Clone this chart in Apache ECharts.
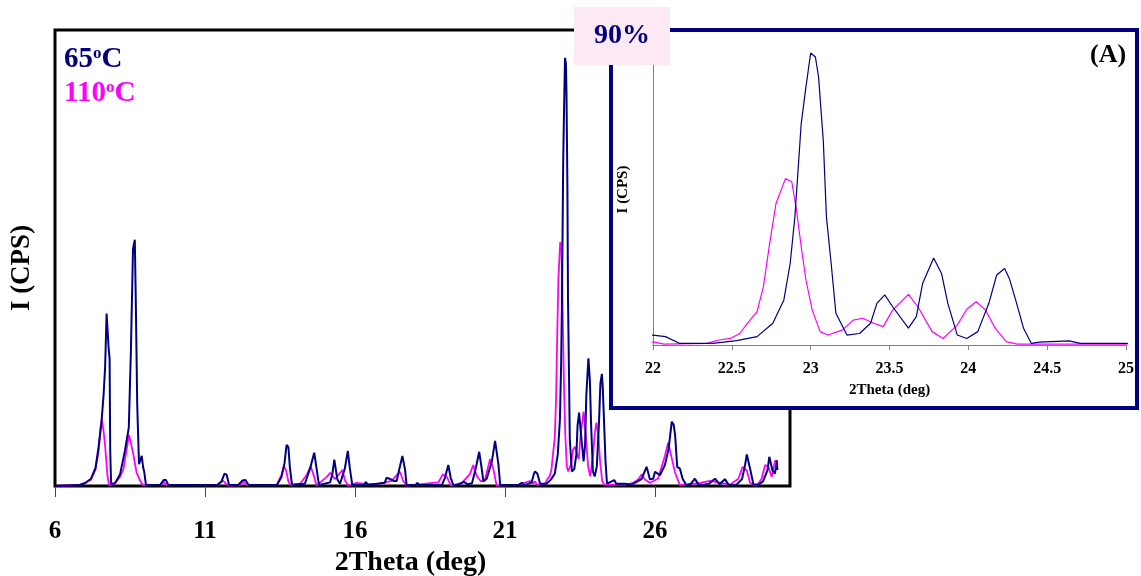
<!DOCTYPE html>
<html>
<head>
<meta charset="utf-8">
<script src="https://cdn.jsdelivr.net/npm/echarts@6/dist/echarts.min.js"></script>
<style>
html,body{margin:0;padding:0;background:#fff;}
#chart{width:1141px;height:576px;}
</style>
</head>
<body>
<div id="chart"></div>
<script>
// ---- DATA (2Theta in degrees, intensity in relative units) ----
const theta65 = [6.0,6.8,7.0,7.2,7.35,7.45,7.55,7.62,7.67,7.72,7.77,7.79,7.82,7.84,7.87,8.0,8.17,8.33,8.46,8.53,8.6,8.66,8.69,8.74,8.8,8.85,8.89,8.94,8.97,9.03,
  9.5,9.62,9.7,9.78,11.4,11.55,11.65,11.72,11.8,12.1,12.25,12.35,12.45,13.4,13.55,13.65,13.72,13.78,13.83,13.9,
  14.33,14.5,14.64,14.72,14.8,15.17,15.24,15.31,15.41,15.5,15.56,15.66,15.76,15.83,15.91,16.3,16.36,16.43,
  16.99,17.05,17.15,17.3,17.39,17.47,17.58,17.67,17.72,18.02,18.08,18.14,18.9,19.0,19.11,19.19,19.28,19.44,19.63,19.75,
  19.9,20.02,20.14,20.22,20.28,20.39,20.56,20.67,20.78,20.84,21.45,21.56,21.65,21.89,21.96,
  22.0,22.08,22.17,22.38,22.53,22.66,22.76,22.83,22.87,22.9,22.94,22.97,23.0,23.03,23.05,23.08,23.1,23.13,23.16,23.23,
  23.31,23.38,23.42,23.47,23.52,23.62,23.67,23.71,23.78,23.83,23.87,23.93,23.99,24.06,24.13,24.18,24.23,24.26,24.3,24.35,
  24.4,24.45,24.64,24.71,25.0,
  25.2,25.39,25.55,25.72,25.83,25.94,26.0,26.17,26.33,26.45,26.56,26.62,26.67,26.74,26.83,26.92,27.04,27.2,27.33,27.45,
  27.61,27.8,28.0,28.15,28.33,28.45,28.7,28.9,29.0,29.06,29.17,29.28,29.45,29.6,29.75,29.81,29.92,30.0,30.06,30.08];
const int65 = [0,0.2,0.6,1.6,4,8.4,14,20,26,37.8,37.6,30,28,8,0.5,0.6,2.6,7.7,12.8,29.7,52,54,42,18,4.8,5,6.6,4,3.3,0.3,
  0.2,1.3,1.3,0.2,0.2,1,2.7,2.5,0.3,0.2,1.2,1.3,0.2,0.3,2,5,9,8.5,4,0.3,
  0.5,3.8,7.3,3.8,0.2,0.8,2.4,5.8,1.5,0.5,0.8,3.8,7.7,3.8,0.2,0.2,0.9,0.2,
  0.7,1.8,1.6,1.1,1.1,3.5,6.6,3.5,0.2,0.2,0.7,0.2,0.3,1.8,4.6,1.8,0.2,0.3,0.9,0.4,
  0.6,3.7,7.5,4,1,1.6,5.3,9.9,4.8,0.2,0.2,0.7,0.2,0.8,2.6,
  3.2,2.7,0.5,0.5,1.4,2.7,7.0,14.5,26.2,41.2,71.2,83,93.9,92.6,86.2,65.8,41.2,26.2,10.2,3.2,
  3.7,7.0,13.4,16.1,12.3,5.4,9.1,19.8,28.0,23.0,13.4,3.2,2.1,4.3,13.4,22.5,24.6,21.4,14.5,5.4,
  0.5,0.9,1.3,0.5,0.5,
  0.3,0.9,1.5,4.2,1.5,1.6,3.1,2.4,4.6,8,14.1,13.5,11.2,4.2,3.8,1.6,0.2,0.5,1.6,0.3,
  0.3,0.5,1.6,0.4,1.5,0.3,0.2,1.5,4.5,6.9,3.8,0.4,0.3,1,3.5,6.4,3.3,2.7,5.6,3.5];

const theta110 = [6.0,6.8,7.0,7.2,7.35,7.45,7.52,7.56,7.62,7.67,7.75,7.8,8.0,8.15,8.28,8.39,8.47,8.52,8.61,8.72,8.85,8.93,
  9.55,9.63,9.72,11.45,11.6,11.7,11.8,12.15,12.28,12.4,13.4,13.55,13.63,13.7,13.78,13.85,
  14.17,14.39,14.52,14.63,14.72,15.06,15.17,15.33,15.44,15.58,15.66,15.77,16.06,16.4,16.83,17.22,17.39,17.5,17.61,17.72,
  18.78,18.93,19.06,19.2,19.56,19.83,19.94,20.06,20.2,20.33,20.5,20.61,20.72,21.47,21.83,21.93,
  22.0,22.07,22.34,22.42,22.49,22.55,22.6,22.66,22.7,22.74,22.78,22.84,22.88,22.91,22.94,22.97,23.01,23.06,23.11,23.2,
  23.27,23.33,23.4,23.46,23.52,23.62,23.68,23.77,23.84,23.93,23.99,24.05,24.11,24.17,24.24,24.31,25.0,
  25.28,25.45,25.56,25.65,25.83,26.1,26.33,26.44,26.54,26.67,26.83,27.2,27.5,27.83,28.17,28.5,28.78,28.92,29.06,29.17,
  29.39,29.55,29.67,29.78,29.89,30.0,30.08];
const int110 = [0,0.2,0.7,1.4,3.6,7.5,13,14.7,12,8.8,2.2,0.2,0.6,1.8,3.7,8.1,11.2,11,7,2.9,1,0.2,
  0.3,0.9,0.2,0.3,1.2,0.5,0.1,0.2,0.9,0.2,0.3,2.5,4.4,3.5,1,0.2,
  0.5,2.4,4.3,2.2,0.1,2.0,2.9,1.5,2.4,3.5,1.3,0.1,0.7,0.4,0.5,1.1,2.4,3.1,1.1,0.1,
  0.8,2.6,2.0,0.1,0.7,2.6,4.6,2.2,1.0,1.3,5.9,3.8,0.1,0.3,1.1,0.6,
  1.0,0.3,0.5,1.6,2.1,3.7,7.0,10.7,18.7,32.7,45.5,53.5,52.5,43.4,31.6,20.9,11.2,4.3,3.2,4.8,
  8.0,8.6,7.0,5.9,11.2,16.3,12.3,4.3,2.1,6.4,11.5,13.9,11.2,5.4,1.1,0.3,0.3,
  0.7,1.5,2.6,1.5,0.7,1.6,6.6,9.5,6.6,2.9,0.2,0.4,0.7,1.1,0.7,0.3,1.6,4.2,3.4,0.7,
  0.1,1.5,4.6,4.2,2.0,5.5,5.5];

const mainTicks = [6, 11, 16, 21, 26];
const seriesNames = ['65', '110'];

// ---- CHART ----
const pairs = (xs, ys) => xs.map((x, i) => [x, ys[i]]);
const d65 = pairs(theta65, int65);
const d110 = pairs(theta110, int110);

const SERIF = 'Liberation Serif';
const NAVY = '#000080';
const MAG = '#ff00ff';

const chart = echarts.init(document.getElementById('chart'), null, {renderer: 'canvas'});
const legendRich = (color) => ({
  a: {fontSize: 29, fontWeight: 'bold', fontFamily: SERIF, color: color, lineHeight: 30},
  s: {fontSize: 17, fontWeight: 'bold', fontFamily: SERIF, color: color, verticalAlign: 'top', lineHeight: 30, padding: [0, 0, 12, 0]}
});

const option = {
  animation: false,
  backgroundColor: '#fff',
  title: [
    {text: '{a|' + seriesNames[0] + '}{s|o}{a|C}', left: 64, top: 45, padding: 0, z: 10,
     textStyle: {rich: legendRich(NAVY)}},
    {text: '{a|' + seriesNames[1] + '}{s|o}{a|C}', left: 64, top: 79, padding: 0, z: 10,
     textStyle: {rich: legendRich(MAG)}},
    {text: '90%', left: 574, top: 7, padding: [15, 20, 15, 20], backgroundColor: '#fde9f3', z: 12,
     textStyle: {fontSize: 28, fontWeight: 'bold', fontFamily: SERIF, color: NAVY, lineHeight: 28}},
    {text: '(A)', left: 1090, top: 42, padding: 0, z: 10,
     textStyle: {fontSize: 26, fontWeight: 'bold', fontFamily: SERIF, color: '#000'}}
  ],
  graphic: [
    {type: 'rect', z: 5, silent: true,
     shape: {x: 611, y: 30, width: 526, height: 378},
     style: {fill: '#fff', stroke: NAVY, lineWidth: 4}}
  ],
  grid: [
    {left: 55, top: 30, width: 735, height: 456, show: true, borderColor: '#000', borderWidth: 3, backgroundColor: 'transparent',
     containLabel: false, outerBoundsMode: 'none'},
    {left: 653, top: 34, width: 473, height: 311, show: false, containLabel: false, outerBoundsMode: 'none'}
  ],
  xAxis: [
    {gridIndex: 0, type: 'value', min: 6, max: 30.5, interval: 5,
     axisLine: {show: false},
     axisTick: {show: true, length: 11, lineStyle: {color: '#444', width: 1}},
     axisLabel: {showMaxLabel: false, hideOverlap: false, margin: 33, fontSize: 25, fontWeight: 'bold', fontFamily: SERIF, color: '#000',
       formatter: (v) => mainTicks.indexOf(v) >= 0 ? String(v) : ''},
     splitLine: {show: false},
     name: '2Theta (deg)', nameLocation: 'middle', nameGap: 63,
     nameTextStyle: {fontSize: 28, fontWeight: 'bold', fontFamily: SERIF, color: '#000', padding: [0, 24, 0, 0]}},
    {gridIndex: 1, type: 'value', min: 22, max: 25, interval: 0.5, z: 7,
     axisLine: {show: true, onZero: false, lineStyle: {color: '#808080', width: 1}},
     axisTick: {show: true, length: 5, lineStyle: {color: '#808080', width: 1}},
     axisLabel: {margin: 16, fontSize: 16, fontWeight: 'bold', fontFamily: SERIF, color: '#000'},
     splitLine: {show: false},
     name: '2Theta (deg)', nameLocation: 'middle', nameGap: 38,
     nameTextStyle: {fontSize: 15, fontWeight: 'bold', fontFamily: SERIF, color: '#000'}}
  ],
  yAxis: [
    {gridIndex: 0, type: 'value', min: 0, max: 100,
     axisLine: {show: false}, axisTick: {show: false}, axisLabel: {show: false}, splitLine: {show: false},
     name: 'I (CPS)', nameLocation: 'middle', nameGap: 19,
     nameTextStyle: {fontSize: 27, fontWeight: 'bold', fontFamily: SERIF, color: '#000', padding: [0, 20, 0, 0]}},
    {gridIndex: 1, type: 'value', min: 0, max: 100, z: 7,
     axisLine: {show: true, onZero: false, lineStyle: {color: '#808080', width: 1}},
     axisTick: {show: false}, axisLabel: {show: false}, splitLine: {show: false},
     name: 'I (CPS)', nameLocation: 'middle', nameGap: 22,
     nameTextStyle: {fontSize: 15, fontWeight: 'bold', fontFamily: SERIF, color: '#000'}}
  ],
  series: [
    {name: seriesNames[1], type: 'line', xAxisIndex: 0, yAxisIndex: 0, data: d110, showSymbol: false, symbol: 'none', z: 2,
     lineStyle: {color: MAG, width: 1.8}},
    {name: seriesNames[0], type: 'line', xAxisIndex: 0, yAxisIndex: 0, data: d65, showSymbol: false, symbol: 'none', z: 3,
     lineStyle: {color: NAVY, width: 2}},
    {name: seriesNames[1] + ' inset', type: 'line', xAxisIndex: 1, yAxisIndex: 1, data: d110, showSymbol: false, symbol: 'none', z: 8, clip: true,
     lineStyle: {color: MAG, width: 1.2}},
    {name: seriesNames[0] + ' inset', type: 'line', xAxisIndex: 1, yAxisIndex: 1, data: d65, showSymbol: false, symbol: 'none', z: 9, clip: true,
     lineStyle: {color: NAVY, width: 1.2}}
  ]
};
chart.setOption(option);
</script>
</body>
</html>
